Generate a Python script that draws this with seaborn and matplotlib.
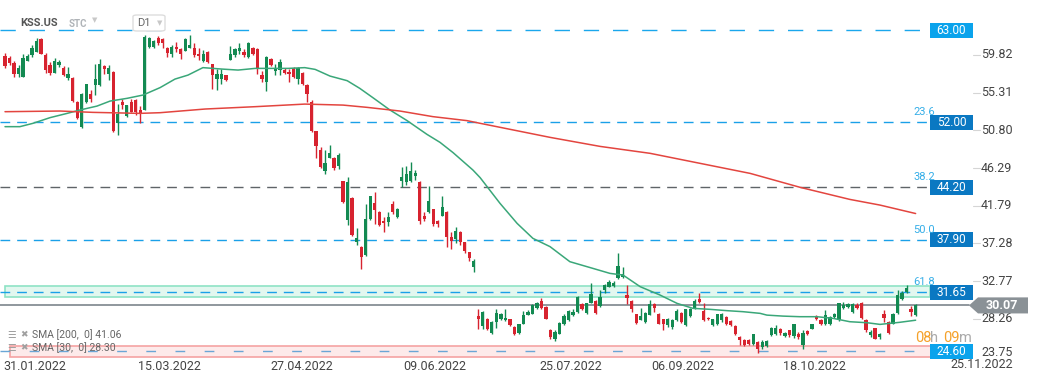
import numpy as np
import pandas as pd
import matplotlib
matplotlib.use('Agg')
import matplotlib.pyplot as plt
import matplotlib.patches as mpatches
import matplotlib.transforms as mtransforms
import seaborn as sns

# daily candles KSS.US (D1)
opens = [59.9, 59.7, 59.1, 57.7, 57.4, 59.3, 60.0, 60.4, 61.9, 60.0, 58.8, 57.9, 58.8, 58.5, 57.3, 57.3, 54.4, 51.4, 54.4, 55.4,
         56.4, 56.4, 58.7, 57.7, 58.0, 51.9, 54.4, 52.7, 54.4, 54.6, 53.5, 53.5, 61.0, 61.0, 62.1, 61.9, 60.9, 60.1, 61.0, 60.7,
         60.5, 60.9, 60.9, 60.2, 59.3, 60.4, 58.9, 57.1, 57.2, 57.6, 59.4, 60.0, 60.5, 60.4, 59.8, 60.8, 60.7, 57.6, 56.8, 59.6,
         58.1, 58.2, 58.2, 58.0, 58.5, 57.2, 57.9, 56.4, 54.4, 50.9, 48.7, 46.1, 47.7, 47.7, 46.8, 44.9, 40.3, 42.9, 37.6, 37.1,
         36.1, 40.4, 42.3, 41.3, 40.2, 40.0, 42.2, 40.7, 45.0, 44.8, 45.0, 45.6, 44.8, 40.8, 41.2, 41.6, 40.2, 40.8, 41.3, 38.3,
         38.0, 38.9, 37.6, 36.4, 34.7, 28.8, 27.6, 28.5, 26.8, 28.1, 28.4, 28.3, 28.4, 27.5, 26.8, 27.9, 28.9, 29.0, 29.8, 30.6,
         29.9, 27.1, 26.1, 26.7, 27.9, 28.3, 28.9, 29.3, 30.2, 29.2, 30.3, 30.6, 30.0, 31.9, 32.3, 32.4, 33.3, 33.5, 31.3, 30.6,
         29.0, 28.3, 28.1, 28.9, 30.2, 29.1, 28.4, 27.7, 27.5, 28.3, 29.2, 27.7, 28.8, 29.8, 30.8, 29.4, 28.6, 27.7, 27.8, 28.3,
         28.7, 28.2, 27.6, 26.3, 25.9, 25.9, 25.5, 25.7, 25.1, 25.2, 26.5, 26.6, 27.2, 26.4, 27.1, 26.4, 26.7, 25.3, 27.0, 27.3,
         28.7, 28.3, 27.8, 27.8, 28.7, 28.3, 29.8, 29.9, 29.3, 30.1, 30.4, 28.3, 26.5, 27.4, 26.3, 29.0, 28.1, 27.9, 29.2, 30.8,
         31.7, 29.7, 28.9]
highs = [60.3, 59.9, 59.3, 58.8, 60.2, 60.2, 61.2, 62.0, 62.1, 60.3, 59.2, 59.7, 59.4, 58.7, 58.6, 57.4, 54.5, 55.5, 56.6, 55.8,
         58.9, 59.5, 58.8, 58.8, 58.1, 54.2, 54.8, 54.1, 54.8, 54.8, 53.9, 62.4, 62.2, 61.8, 62.25, 62.0, 61.0, 61.2, 61.6, 60.8,
         62.0, 62.4, 61.4, 60.8, 60.6, 60.5, 59.0, 58.3, 58.3, 57.6, 61.1, 60.9, 61.4, 60.7, 61.6, 61.0, 60.9, 58.1, 59.9, 59.7,
         59.0, 59.6, 58.5, 58.4, 58.6, 58.6, 58.0, 56.5, 54.6, 50.9, 49.0, 48.6, 49.3, 47.8, 48.3, 45.0, 45.4, 43.0, 39.3, 37.2,
         42.2, 43.2, 43.6, 41.4, 40.6, 41.3, 42.6, 41.7, 46.6, 46.7, 47.2, 46.3, 44.9, 41.3, 44.4, 41.6, 40.3, 43.2, 41.4, 38.8,
         39.4, 39.0, 37.7, 36.4, 35.6, 29.7, 29.4, 28.6, 28.2, 29.6, 29.2, 29.7, 28.5, 27.6, 27.9, 29.4, 29.5, 30.2, 30.5, 30.9,
         30.0, 27.2, 27.1, 28.1, 29.0, 29.5, 29.7, 31.2, 30.3, 30.4, 32.8, 30.7, 31.9, 32.6, 33.1, 33.0, 36.3, 34.7, 32.5, 30.7,
         29.0, 29.8, 29.3, 30.7, 30.3, 29.2, 28.5, 28.6, 28.4, 29.6, 29.3, 29.7, 29.8, 30.8, 31.5, 30.3, 28.7, 28.5, 29.1, 29.2,
         28.8, 28.3, 27.7, 26.4, 26.0, 26.0, 26.7, 25.8, 25.9, 25.9, 27.5, 27.7, 27.4, 26.9, 27.1, 27.9, 26.9, 27.1, 27.1, 27.9,
         28.9, 28.5, 29.5, 28.8, 29.2, 30.4, 30.5, 30.3, 30.3, 30.4, 30.5, 28.4, 27.1, 27.4, 26.8, 29.5, 28.2, 29.2, 31.9, 31.8,
         32.5, 30.0, 30.2]
lows = [58.5, 58.8, 57.4, 57.4, 57.4, 59.3, 59.8, 60.4, 60.1, 57.9, 57.6, 57.9, 58.6, 57.5, 57.0, 54.4, 52.4, 51.3, 54.3, 54.4,
        55.2, 56.3, 57.8, 57.0, 50.8, 50.5, 53.6, 52.6, 53.2, 52.8, 51.9, 53.4, 60.9, 60.9, 61.2, 60.8, 59.8, 59.8, 60.4, 59.5,
        60.5, 60.8, 59.8, 59.4, 59.2, 59.1, 55.9, 55.8, 56.5, 56.9, 59.4, 59.8, 60.2, 59.8, 59.7, 60.0, 57.8, 56.8, 55.7, 58.7,
        57.6, 57.6, 57.8, 56.8, 57.3, 56.5, 56.4, 54.4, 50.8, 47.7, 46.5, 45.8, 47.7, 46.3, 46.4, 42.3, 39.7, 38.4, 37.3, 34.4,
        36.0, 40.3, 39.8, 39.6, 38.8, 39.6, 41.0, 40.5, 44.2, 44.5, 44.8, 45.1, 39.8, 40.2, 41.1, 39.6, 39.5, 40.8, 37.0, 36.8,
        37.5, 37.3, 36.3, 35.4, 34.1, 27.3, 27.2, 27.1, 26.6, 27.4, 28.3, 28.2, 27.6, 26.5, 26.7, 27.8, 28.9, 29.0, 29.7, 29.7,
        28.4, 26.1, 25.8, 26.7, 27.7, 28.2, 28.8, 29.2, 29.5, 29.1, 30.3, 29.1, 29.9, 31.5, 32.3, 32.3, 33.2, 33.4, 30.2, 29.3,
        27.9, 28.3, 28.0, 28.9, 29.3, 27.8, 27.1, 27.5, 27.3, 28.2, 28.0, 27.6, 28.7, 29.7, 30.3, 28.2, 28.3, 27.6, 27.7, 28.1,
        27.7, 27.6, 26.5, 25.3, 25.2, 25.3, 25.3, 24.4, 24.9, 25.1, 26.4, 26.5, 26.5, 26.3, 26.3, 26.2, 26.1, 24.9, 26.5, 27.2,
        28.3, 27.7, 27.7, 27.7, 28.6, 28.2, 29.7, 29.8, 29.2, 29.7, 28.5, 26.9, 26.3, 26.0, 26.1, 28.1, 26.7, 27.8, 29.1, 30.7,
        31.5, 28.8, 28.8]
closes = [58.7, 59.1, 57.7, 58.5, 59.7, 59.9, 60.8, 61.7, 60.2, 58.2, 57.9, 59.3, 59.2, 57.6, 57.7, 54.5, 52.5, 55.4, 56.5, 54.8,
          57.2, 58.9, 58.4, 58.5, 50.9, 53.0, 54.0, 54.0, 53.2, 53.2, 53.0, 62.2, 62.0, 61.7, 61.4, 61.4, 60.3, 61.0, 60.7, 60.2,
          61.9, 61.2, 60.0, 59.9, 60.2, 59.2, 57.6, 57.8, 57.8, 57.0, 60.2, 60.7, 60.8, 60.0, 61.5, 60.2, 58.4, 57.2, 59.8, 58.8,
          58.5, 59.2, 57.9, 57.7, 57.4, 58.5, 56.5, 55.3, 50.9, 49.1, 46.6, 47.1, 48.3, 46.5, 48.1, 42.4, 44.8, 38.5, 38.1, 35.9,
          40.4, 43.1, 41.5, 39.7, 39.9, 40.7, 41.2, 41.6, 45.4, 45.8, 46.1, 45.9, 40.2, 40.4, 42.6, 39.8, 39.8, 41.9, 38.2, 37.8,
          39.0, 37.7, 36.6, 35.7, 35.4, 28.5, 29.3, 27.2, 28.1, 29.2, 29.0, 28.6, 27.7, 26.6, 27.8, 28.9, 29.3, 30.1, 30.4, 29.8,
          28.5, 26.3, 26.9, 28.0, 28.8, 29.4, 29.3, 31.1, 29.6, 30.3, 31.4, 29.2, 31.1, 32.5, 32.9, 32.8, 34.8, 33.8, 31.0, 29.7,
          28.0, 28.8, 29.2, 30.2, 29.8, 27.9, 27.8, 28.5, 28.3, 29.4, 28.1, 29.6, 29.7, 30.6, 30.5, 28.3, 28.4, 28.4, 29.0, 29.1,
          27.8, 27.7, 26.6, 25.9, 25.3, 25.5, 26.6, 24.9, 25.7, 25.8, 27.4, 27.4, 26.8, 26.8, 26.5, 27.8, 26.3, 26.8, 26.6, 27.8,
          28.4, 27.9, 28.9, 28.7, 29.1, 30.3, 30.1, 30.2, 30.2, 29.8, 28.6, 27.1, 26.9, 26.1, 26.7, 28.6, 26.8, 29.1, 31.3, 31.6,
          32.2, 29.3, 30.07]

# moving averages (bar index, value)
sma30_x = [0, 3.3, 6.2, 10, 13.8, 16.6, 20.4, 23.3, 27.1, 30.6, 34.4, 37.7, 40.6, 43.9, 48.1, 51.7, 55.5, 59.2, 62.8, 66.5,
           68.8, 72.1, 75.9, 78.7, 81.6, 85.4, 89.2, 93.6, 96.5, 99.4, 103.8, 105.4, 109.8, 113.6, 117.1, 120.9, 125.3, 130.4,
           134.2, 137.1, 140.9, 145.3, 149.1, 152.6, 156.4, 160.2, 163.7, 167.5, 169.0, 172.6, 176.3, 180.1, 183.7, 187.4,
           191.2, 194.1, 198.5, 202]
sma30_y = [51.45, 51.45, 51.85, 52.53, 53.04, 53.44, 53.91, 54.51, 54.84, 55.23, 56.12, 57.14, 57.62, 58.51, 58.34, 58.22,
           58.42, 58.42, 58.42, 58.51, 58.30, 57.50, 56.95, 56.03, 54.92, 53.44, 52.17, 50.53, 49.57, 48.34, 46.26, 45.35,
           42.28, 39.88, 38.09, 37.10, 35.30, 34.50, 33.90, 33.70, 32.31, 31.31, 30.31, 29.72, 29.60, 29.44, 29.32, 29.12,
           28.91, 28.79, 28.72, 28.72, 28.52, 28.12, 28.00, 27.80, 28.05, 28.30]
sma200_x = [0, 12.2, 19.5, 29.9, 34.4, 44.4, 55.5, 66.5, 75, 80.3, 87.6, 94.9, 102.5, 105.4, 120.9, 132, 143.1, 154.2,
            165.3, 176.4, 187.4, 194.1, 202]
sma200_y = [53.24, 53.32, 53.16, 53.04, 53.12, 53.56, 53.84, 54.15, 54.03, 53.76, 53.32, 52.65, 52.17, 51.85, 50.17,
            49.09, 48.26, 47.06, 45.86, 44.19, 42.75, 42.07, 41.06]

levels = [63.00, 52.00, 44.20, 37.90, 31.65, 24.60]
fib_levels = [52.00, 44.20, 37.90, 31.65]
fib_names = ['23.6', '38.2', '50.0', '61.8']
last_price = 30.07
price_ticks = [59.82, 55.31, 50.80, 46.29, 41.79, 37.28, 32.77, 28.26, 23.75]
date_labels = ['31.01.2022', '15.03.2022', '27.04.2022', '09.06.2022', '25.07.2022', '06.09.2022', '18.10.2022']
date_pos = [6.7, 36.5, 65.9, 95.4, 125.5, 150.4, 179.5]

W, H = 1041, 382
UP, DOWN = '#138a52', '#d7232f'
BLUE, DARKBLUE = '#0aa3ec', '#0a78c2'

sns.set_style('white')
plt.rcParams['font.family'] = ['Roboto', 'DejaVu Sans']

df = pd.DataFrame({'open': opens, 'high': highs, 'low': lows, 'close': closes})
df['i'] = np.arange(len(df))
df['up'] = df['close'] >= df['open']
df['color'] = np.where(df['up'], UP, DOWN)
df['body_lo'] = df[['open', 'close']].min(axis=1)
df['body_h'] = (df['close'] - df['open']).abs().clip(lower=0.08)

fig = plt.figure(figsize=(W / 100, H / 100), dpi=100)
ax = fig.add_axes([0, 1 - 358 / H, 925 / W, 358 / H])
ax.set_xlim(-1.11, 204.08)
ax.set_ylim(23.78, 66.60)
for s in ax.spines.values():
    s.set_visible(False)
ax.set_yticks([])

tr = mtransforms.blended_transform_factory(ax.transAxes, ax.transData)

# zones
ax.add_patch(mpatches.Rectangle((0.005, 31.11), 1.0, 1.28, transform=tr, clip_on=False,
                                facecolor='#e2f7ef', edgecolor='#8ee3c5', lw=1.2, zorder=1))
ax.add_patch(mpatches.Rectangle((0.011, 23.93), 1.0, 1.28, transform=tr, clip_on=False,
                                facecolor='#fdeaea', edgecolor='#f5a3a3', lw=1.2, zorder=1))

# horizontal levels
ax.axhline(63.00, xmax=1.005, color='#1aa7ec', lw=1.0, ls=(0, (11, 10)), clip_on=False, zorder=2)
for lv in [52.00, 37.90, 31.65]:
    ax.axhline(lv, xmax=1.005, color='#1aa0e8', lw=1.0, ls=(0, (7, 5)), clip_on=False, zorder=2)
ax.axhline(44.20, xmax=1.005, color='#5f6468', lw=1.0, ls=(0, (7, 5)), clip_on=False, zorder=2)
ax.axhline(24.60, xmax=1.005, color='#6aa6d6', lw=1.0, ls=(0, (7, 14)), clip_on=False, zorder=2)
ax.axhline(last_price, xmax=1.048, color='#7d858c', lw=1.2, clip_on=False, zorder=2)

# candles
ax.vlines(df['i'], df['low'], df['high'], colors=df['color'], lw=1.0, zorder=3)
ax.bar(df['i'], df['body_h'], bottom=df['body_lo'], width=0.72, color=df['color'], lw=0, zorder=4)

# moving averages
sma = pd.DataFrame({'x': sma30_x, 'y': sma30_y})
sma_l = pd.DataFrame({'x': sma200_x, 'y': sma200_y})
sns.lineplot(data=sma, x='x', y='y', ax=ax, color='#3aa779', lw=1.1, zorder=5)
sns.lineplot(data=sma_l, x='x', y='y', ax=ax, color='#e3453f', lw=1.1, zorder=5)
ax.set_xlabel('')
ax.set_ylabel('')

# level boxes
for lv in levels:
    c = BLUE if lv in (63.00, 24.60) else DARKBLUE
    ax.add_patch(mpatches.Rectangle((930 / 925, lv - 0.9), 43 / 925, 1.8, transform=tr, clip_on=False,
                                    facecolor=c, edgecolor='none', zorder=6))
    ax.text(951.5 / 925, lv, f'{lv:.2f}', transform=tr, ha='center', va='center',
            color='white', fontsize=8.5, zorder=7)

up5 = mtransforms.offset_copy(tr, fig=fig, x=0, y=5, units='dots')
for lv, name in zip(fib_levels, fib_names):
    ax.text(913 / 925, lv, name, transform=up5, ha='left', va='bottom', color='#35aee8', fontsize=8, zorder=8)

# last price tag
ax.add_patch(mpatches.Polygon([(969 / 925, last_price), (978 / 925, last_price + 0.96), (1028 / 925, last_price + 0.96),
                               (1028 / 925, last_price - 0.96), (978 / 925, last_price - 0.96)],
                              closed=True, transform=tr, clip_on=False, facecolor='#8a9196', edgecolor='none', zorder=6))
ax.text(1002 / 925, last_price, f'{last_price:.2f}', transform=tr, ha='center', va='center',
        color='white', fontsize=9, fontweight='bold', zorder=7)

# price axis
lab = mtransforms.offset_copy(tr, fig=fig, x=0, y=1.7, units='dots')
for v in price_ticks[:-1]:
    ax.text(981 / 925, v, f'{v:.2f}', transform=lab, ha='left', va='center', color='#444444', fontsize=9)
    ax.plot([973 / 925, 980 / 925], [v, v], transform=lab, clip_on=False, color='#d5d5d5', lw=0.8)
ax.text(981 / 925, price_ticks[-1], f'{price_ticks[-1]:.2f}', transform=mtransforms.offset_copy(tr, fig=fig, x=0, y=6, units='dots'),
        ha='left', va='center', color='#444444', fontsize=9)

# date axis
ax.set_xticks(date_pos)
ax.set_xticklabels(date_labels)
ax.tick_params(axis='x', length=0, pad=1.5, labelsize=9, labelcolor='#444444')
fig.text(982 / W, 1 - 364 / H, '25.11.2022', ha='center', va='center', fontsize=9, color='#444444')

# countdown
for x0, s, c in [(915, '08', '#f5a12a'), (930, 'h', '#aaaaaa'), (943, '09', '#f5a12a'), (959, 'm', '#aaaaaa')]:
    fig.text(x0 / W, 1 - 342.5 / H, s, ha='left', va='baseline', fontsize=10.5, color=c)

# header
fig.text(20 / W, 1 - 23 / H, 'KSS.US', ha='left', va='center', fontsize=8, fontweight='bold', color='#555555')
fig.text(69 / W, 1 - 24 / H, 'STC', ha='left', va='center', fontsize=7, fontweight='bold', color='#b0b4b8')
fig.text(95 / W, 1 - 21 / H, '\u25bc', ha='center', va='center', fontsize=5, color='#c8c8c8')
fig.add_artist(mpatches.FancyBboxPatch((133 / W, 1 - 31 / H), 32 / W, 16 / H, boxstyle='round,pad=0,rounding_size=0.004',
                                       transform=fig.transFigure, facecolor='white', edgecolor='#dddddd', lw=1))
fig.text(137 / W, 1 - 23.5 / H, 'D1', ha='left', va='center', fontsize=8, color='#666666')
fig.text(159.5 / W, 1 - 24 / H, '\u25bc', ha='center', va='center', fontsize=5, color='#c8c8c8')

# indicator legend
for yy, txt in [(334.5, 'SMA [200,  0] 41.06'), (348, 'SMA [30,  0] 28.30')]:
    fig.text(7 / W, 1 - yy / H, '\u2630', ha='left', va='center', fontsize=7, color='#a0a0a0')
    fig.text(20 / W, 1 - yy / H, '\u2716', ha='left', va='center', fontsize=6.5, color='#a0a0a0')
    fig.text(32 / W, 1 - yy / H, txt, ha='left', va='center', fontsize=7.5, color='#666666')

fig.savefig('out.png', dpi=100)
